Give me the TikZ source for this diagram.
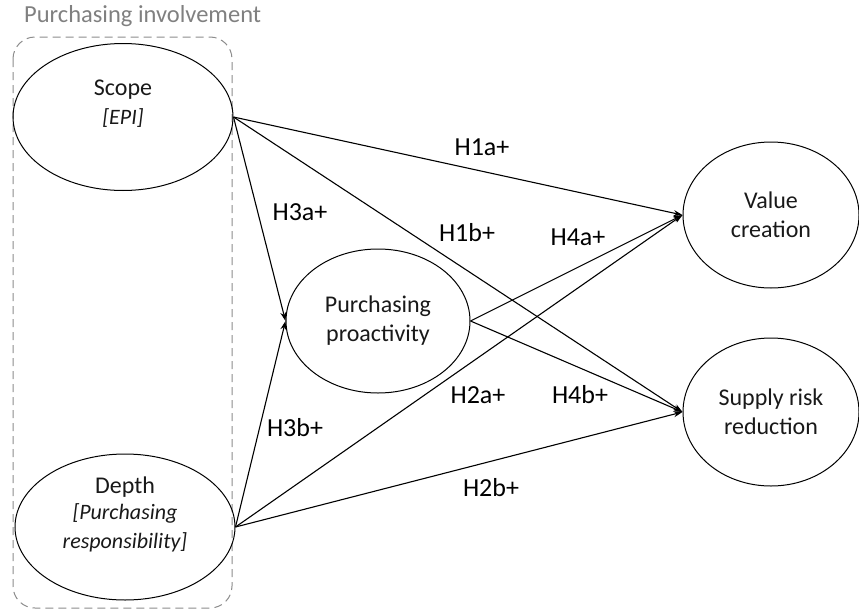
\documentclass[tikz,border=0pt]{standalone}
\usepackage{fontspec}
\setmainfont{Carlito}
\usepackage{xcolor}
\usepackage{tikz}
\usetikzlibrary{positioning,arrows.meta,shapes.geometric}

\begin{document}
\begin{tikzpicture}[
x=1pt, y=-1pt,
construct/.style={draw, ellipse, inner sep=0pt, align=center, font=\fontsize{24}{29}\selectfont, text=black!90, line width=1pt},
hyp/.style={font=\fontsize{26}{30}\selectfont, inner sep=0pt},
arr/.style={-{Stealth[length=9pt, width=6pt]}, line width=1.1pt}
]
\useasboundingbox (0,0) rectangle (859,613);
\node[anchor=west, text=black!50, font=\fontsize{24.5}{28}\selectfont, inner sep=0pt] (title) at (24,16) {Purchasing involvement};
\draw[dashed, black!45, line width=1pt, dash pattern=on 8pt off 5pt, rounded corners=22pt] (13,37) rectangle (232,608);
\node[construct, minimum width=220, minimum height=147] (scope) at (123,117) {Scope\\\textit{\fontsize{22}{29}\selectfont[EPI]}\\~};
\node[construct, minimum width=220, minimum height=146] (depth) at (125,527) {Depth\\[-3pt]\textit{\fontsize{22}{24}\selectfont[Purchasing}\\\textit{\fontsize{22}{24}\selectfont responsibility]}\\~};
\node[construct, minimum width=184, minimum height=144] (proact) at (378,321) {Purchasing\\proactivity};
\node[construct, minimum width=176, minimum height=146] (value) at (771,215) {Value\\creation};
\node[construct, minimum width=176, minimum height=148] (risk) at (771,412) {Supply risk\\reduction};
\draw[arr] (scope.east) -- (value.west);
\draw[arr] (scope.east) -- (risk.west);
\draw[arr] (scope.east) -- (proact.west);
\draw[arr] (depth.east) -- (proact.west);
\draw[arr] (depth.east) -- (value.west);
\draw[arr] (depth.east) -- (risk.west);
\draw[arr] (proact.east) -- (value.west);
\draw[arr] (proact.east) -- (risk.west);
\node[hyp] (h1a) at (482,147) {H1a+};
\node[hyp] (h1b) at (467,233) {H1b+};
\node[hyp] (h3a) at (300,212) {H3a+};
\node[hyp] (h4a) at (578,237) {H4a+};
\node[hyp] (h2a) at (478,395) {H2a+};
\node[hyp] (h4b) at (580,395) {H4b+};
\node[hyp] (h3b) at (295,428) {H3b+};
\node[hyp] (h2b) at (491,488) {H2b+};
\end{tikzpicture}
\end{document}
